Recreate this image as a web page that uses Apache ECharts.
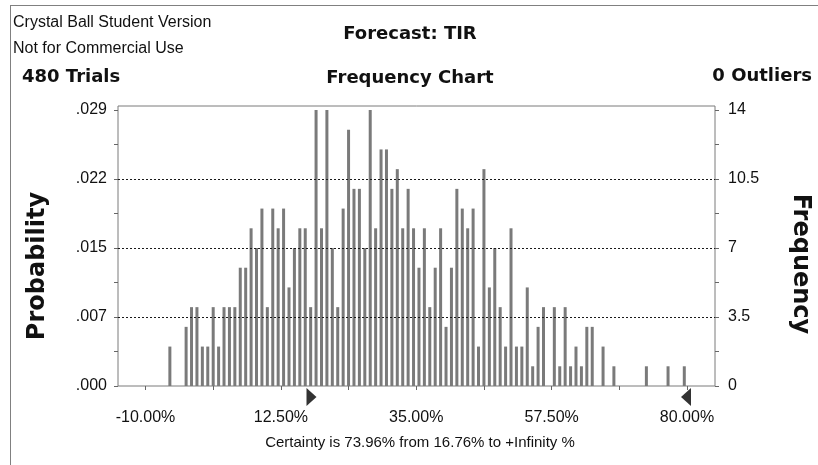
<!DOCTYPE html>
<html><head><meta charset="utf-8">
<script src="https://cdn.jsdelivr.net/npm/echarts@6/dist/echarts.min.js"></script>
<style>html,body{margin:0;padding:0;background:#fff}#c{width:818px;height:465px}</style>
</head><body><div id="c"></div>
<script>
// ---- data ----
const binMin = -10;          // first bin edge (%)
const binMax = 80;           // last bin edge (%)
const frequencies = [
  0,0,0,0,2,0,0,3,4,4,
  2,2,4,2,4,4,4,6,6,8,
  7,9,4,9,8,9,5,7,8,8,
  4,14,8,14,7,4,9,13,10,10,
  7,14,8,12,12,10,11,8,10,8,
  6,8,4,6,8,3,6,10,9,8,
  9,2,11,5,7,4,2,8,2,2,
  5,1,3,4,0,4,1,4,1,2,
  1,3,3,0,2,0,1,0,0,0,
  0,0,1,0,0,0,1,0,0,1
];
const xTickLabels = ['-10.00%','','12.50%','','35.00%','','57.50%','','80.00%'];
const probTickLabels = ['.000','.007','.015','.022','.029'];
const freqTickLabels = ['0','3.5','7','10.5','14'];
const trials = 480;
const outliers = 0;
const certainty = 73.96;
const certaintyFrom = 16.76;
const forecastName = 'TIR';

const binW = (binMax - binMin) / frequencies.length;
const barData = frequencies.map((f, i) => [binMin + (i + 0.5) * binW, f]);

const FONT = '"Liberation Sans", Arial, sans-serif';
const BOLD = '"DejaVu Sans", sans-serif';
const tickStyle = {color: '#666', width: 1};

const chart = echarts.init(document.getElementById('c'), null, {renderer: 'canvas'});
chart.setOption({
  animation: false,
  backgroundColor: '#fff',
  grid: [
    {left: 118, right: 103, top: 106, bottom: 79, show: true, borderColor: '#7a7a7a', borderWidth: 1, backgroundColor: 'transparent'},
    {left: 118, right: 103, top: 110, bottom: 79},
    {left: 145.5, right: 131, top: 110, bottom: 79}
  ],
  xAxis: [
    {gridIndex: 0, type: 'value', show: false, min: 0, max: 1},
    {gridIndex: 1, type: 'value', show: false, min: 0, max: 1},
    {gridIndex: 2, type: 'value', min: binMin, max: binMax, interval: 11.25,
     axisLine: {show: false},
     axisTick: {show: true, length: 4, lineStyle: tickStyle},
     splitLine: {show: false},
     axisLabel: {margin: 24, fontFamily: FONT, fontSize: 16, color: '#111',
                 formatter: (v, i) => xTickLabels[i] || ''}}
  ],
  yAxis: [
    {gridIndex: 0, type: 'value', show: false, min: 0, max: 1},
    {gridIndex: 1, type: 'value', position: 'left', min: 0, max: 14, interval: 3.5, z: 10,
     axisLine: {show: false},
     axisTick: {show: true, length: 4, lineStyle: tickStyle},
     minorTick: {show: true, splitNumber: 2, length: 4, lineStyle: tickStyle},
     splitLine: {show: true, showMinLine: false, showMaxLine: false,
                 lineStyle: {color: '#1a1a1a', type: [2, 2], width: 1}},
     axisLabel: {margin: 11, fontFamily: FONT, fontSize: 16, color: '#111',
                 formatter: (v, i) => probTickLabels[i]}},
    {gridIndex: 1, type: 'value', position: 'right', min: 0, max: 14, interval: 3.5,
     axisLine: {show: false},
     axisTick: {show: true, length: 4, lineStyle: tickStyle},
     minorTick: {show: true, splitNumber: 2, length: 4, lineStyle: tickStyle},
     splitLine: {show: false},
     axisLabel: {margin: 13, fontFamily: FONT, fontSize: 16, color: '#111',
                 formatter: (v, i) => freqTickLabels[i]}},
    {gridIndex: 2, type: 'value', show: false, min: 0, max: 14}
  ],
  series: [
    {type: 'bar', xAxisIndex: 2, yAxisIndex: 3, barWidth: 3, data: barData,
     itemStyle: {color: '#7a7a7a'}, silent: true, z: 2},
    {type: 'scatter', xAxisIndex: 2, yAxisIndex: 3, clip: false, silent: true,
     data: [[certaintyFrom, 0]], symbol: 'path://M0,0L10,6L0,12Z',
     symbolSize: [10, 18], symbolOffset: [5, 11], itemStyle: {color: '#000'}},
    {type: 'scatter', xAxisIndex: 2, yAxisIndex: 3, clip: false, silent: true,
     data: [[binMax, 0]], symbol: 'path://M10,0L0,6L10,12Z',
     symbolSize: [10, 18], symbolOffset: [-1, 11], itemStyle: {color: '#000'}}
  ],
  graphic: [
    {type: 'line', shape: {x1: 10.5, y1: 5, x2: 10.5, y2: 465}, style: {stroke: '#808080', lineWidth: 1}, silent: true},
    {type: 'line', shape: {x1: 10, y1: 5.5, x2: 818, y2: 5.5}, style: {stroke: '#808080', lineWidth: 1}, silent: true},
    {type: 'text', x: 13, y: 23, style: {text: 'Crystal Ball Student Version', font: '16px ' + FONT, fill: '#111', align: 'left', verticalAlign: 'middle'}},
    {type: 'text', x: 13, y: 49, style: {text: 'Not for Commercial Use', font: '16px ' + FONT, fill: '#111', align: 'left', verticalAlign: 'middle'}},
    {type: 'text', x: 22, y: 77, style: {text: trials + ' Trials', font: 'bold 18px ' + BOLD, fill: '#111', align: 'left', verticalAlign: 'middle'}},
    {type: 'text', x: 410, y: 34, style: {text: 'Forecast: ' + forecastName, font: 'bold 18px ' + BOLD, fill: '#111', align: 'center', verticalAlign: 'middle'}},
    {type: 'text', x: 410, y: 78, style: {text: 'Frequency Chart', font: 'bold 18px ' + BOLD, fill: '#111', align: 'center', verticalAlign: 'middle'}},
    {type: 'text', x: 812, y: 76, style: {text: outliers + ' Outliers', font: 'bold 18px ' + BOLD, fill: '#111', align: 'right', verticalAlign: 'middle'}},
    {type: 'text', x: 38, y: 266, rotation: Math.PI / 2, style: {text: 'Probability', font: 'bold 24px ' + BOLD, fill: '#111', align: 'center', verticalAlign: 'middle'}},
    {type: 'text', x: 800, y: 264, rotation: -Math.PI / 2, style: {text: 'Frequency', font: 'bold 24px ' + BOLD, fill: '#111', align: 'center', verticalAlign: 'middle'}},
    {type: 'text', x: 420, y: 443, style: {text: 'Certainty is ' + certainty.toFixed(2) + '% from ' + certaintyFrom.toFixed(2) + '% to +Infinity %', font: '15px ' + FONT, fill: '#111', align: 'center', verticalAlign: 'middle'}}
  ]
});
</script>
</body></html>
